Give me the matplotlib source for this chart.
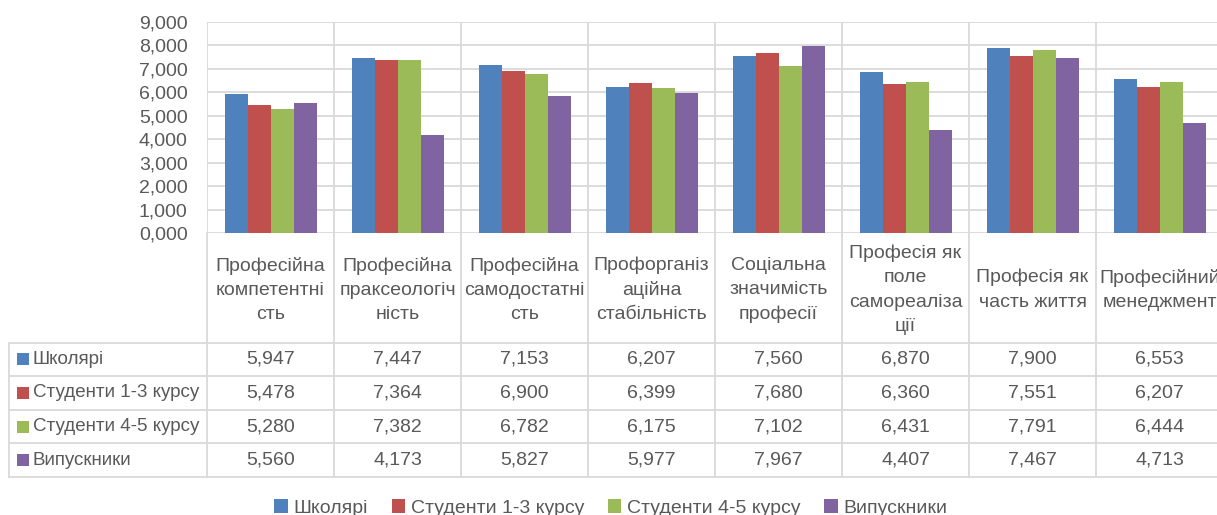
import numpy as np
import matplotlib
matplotlib.use('Agg')
import matplotlib.pyplot as plt
from matplotlib.patches import Patch, Rectangle

plt.rcParams['font.family'] = ['Liberation Sans', 'DejaVu Sans']

#-----------------------------------------------------------------------------
categories = ['Професійна\nкомпетентні\nсть',
              'Професійна\nпраксеологіч\nність',
              'Професійна\nсамодостатні\nсть',
              'Профорганіз\nаційна\nстабільність',
              'Соціальна\nзначимість\nпрофесії',
              'Професія як\nполе\nсамореаліза\nції',
              'Професія як\nчасть життя',
              'Професійний\nменеджмент']

series_names = ['Школярі', 'Студенти 1-3 курсу', 'Студенти 4-5 курсу', 'Випускники']

shkolyari  = [5.947, 7.447, 7.153, 6.207, 7.560, 6.870, 7.900, 6.553]
stud_1_3   = [5.478, 7.364, 6.900, 6.399, 7.680, 6.360, 7.551, 6.207]
stud_4_5   = [5.280, 7.382, 6.782, 6.175, 7.102, 6.431, 7.791, 6.444]
vypusknyky = [5.560, 4.173, 5.827, 5.977, 7.967, 4.407, 7.467, 4.713]

yticks = [0, 1, 2, 3, 4, 5, 6, 7, 8, 9]

#-----------------------------------------------------------------------------
colors = ['#4F81BD', '#C0504D', '#9BBB59', '#8064A2']
gridc = '#D9D9D9'
textc = '#595959'
fsize = 14

def fmt(v):
  return ('%.3f' % v).replace('.', ',')

W, H = 1217, 515
fig = plt.figure(figsize=(W/100., H/100.), dpi=100)

ncat = len(categories)
catw = 127.0                      # px per category
x0 = 207.0                        # left edge of plot area
ax_top, ax_bot = 22.0, 233.0
axw = catw*ncat

ax = fig.add_axes([x0/W, 1-ax_bot/H, axw/W, (ax_bot-ax_top)/H])

data = [shkolyari, stud_1_3, stud_4_5, vypusknyky]
x = np.arange(ncat)
bw = 23.0/catw
for j, vals in enumerate(data):
  ax.bar(x + (j-1.5)*bw, vals, width=bw, color=colors[j], zorder=3)

ax.set_xlim(-0.5, ncat-0.5)
ax.set_ylim(yticks[0], yticks[-1])
ax.set_yticks(yticks)
ax.set_yticklabels([fmt(v) for v in yticks])
ax.set_xticks([])
ax.tick_params(axis='y', length=0, pad=14, labelsize=fsize, labelcolor=textc)
for s in ax.spines.values():
  s.set_visible(False)
for v in yticks:
  ax.axhline(v, color=gridc, lw=1.3, zorder=1)
for i in range(ncat+1):
  ax.axvline(i-0.5, color=gridc, lw=1.3, zorder=1)

#-----------------------------------------------------------------------------
# data table under the chart
tab_top, tab_bot = 233.0, 477.0
tab = fig.add_axes([x0/W, 1-tab_bot/H, axw/W, (tab_bot-tab_top)/H])
tab.set_xlim(-0.5, ncat-0.5)
tab.set_ylim(tab_bot-tab_top, 0)
tab.axis('off')

hdr = 109.5
rowh = 33.6
left = -0.5 - (x0-9.0)/catw

for i in range(ncat+1):
  tab.plot([i-0.5, i-0.5], [0, hdr+rowh*len(data)], color=gridc, lw=1.3, clip_on=False)
tab.plot([left, left], [hdr, hdr+rowh*len(data)], color=gridc, lw=1.3, clip_on=False)
for r in range(len(data)+1):
  tab.plot([left, ncat-0.5], [hdr+r*rowh, hdr+r*rowh], color=gridc, lw=1.3, clip_on=False)

for i, c in enumerate(categories):
  tab.text(i, hdr/2+2, c, ha='center', va='center', fontsize=fsize, color=textc,
           linespacing=1.55, clip_on=False)

for r, vals in enumerate(data):
  yc = hdr + (r+0.5)*rowh
  tab.add_patch(Rectangle((left+8.0/catw, yc-6), 12.0/catw, 12.0,
                          facecolor=colors[r], edgecolor='none', clip_on=False))
  tab.text(left+24.0/catw, yc, series_names[r], ha='left', va='center',
           fontsize=13.5, color=textc, clip_on=False)
  for i, v in enumerate(vals):
    tab.text(i, yc, fmt(v), ha='center', va='center', fontsize=fsize, color=textc,
             clip_on=False)

#-----------------------------------------------------------------------------
handles = [Patch(facecolor=colors[j], edgecolor='none') for j in range(len(data))]
fig.legend(handles, series_names, loc='center', bbox_to_anchor=(0.502, 1-508.0/H),
           ncol=4, frameon=False, fontsize=fsize, labelcolor=textc,
           handlelength=0.7, handleheight=0.7, handletextpad=0.3, columnspacing=1.2)

plt.savefig('out.png', dpi=100)
